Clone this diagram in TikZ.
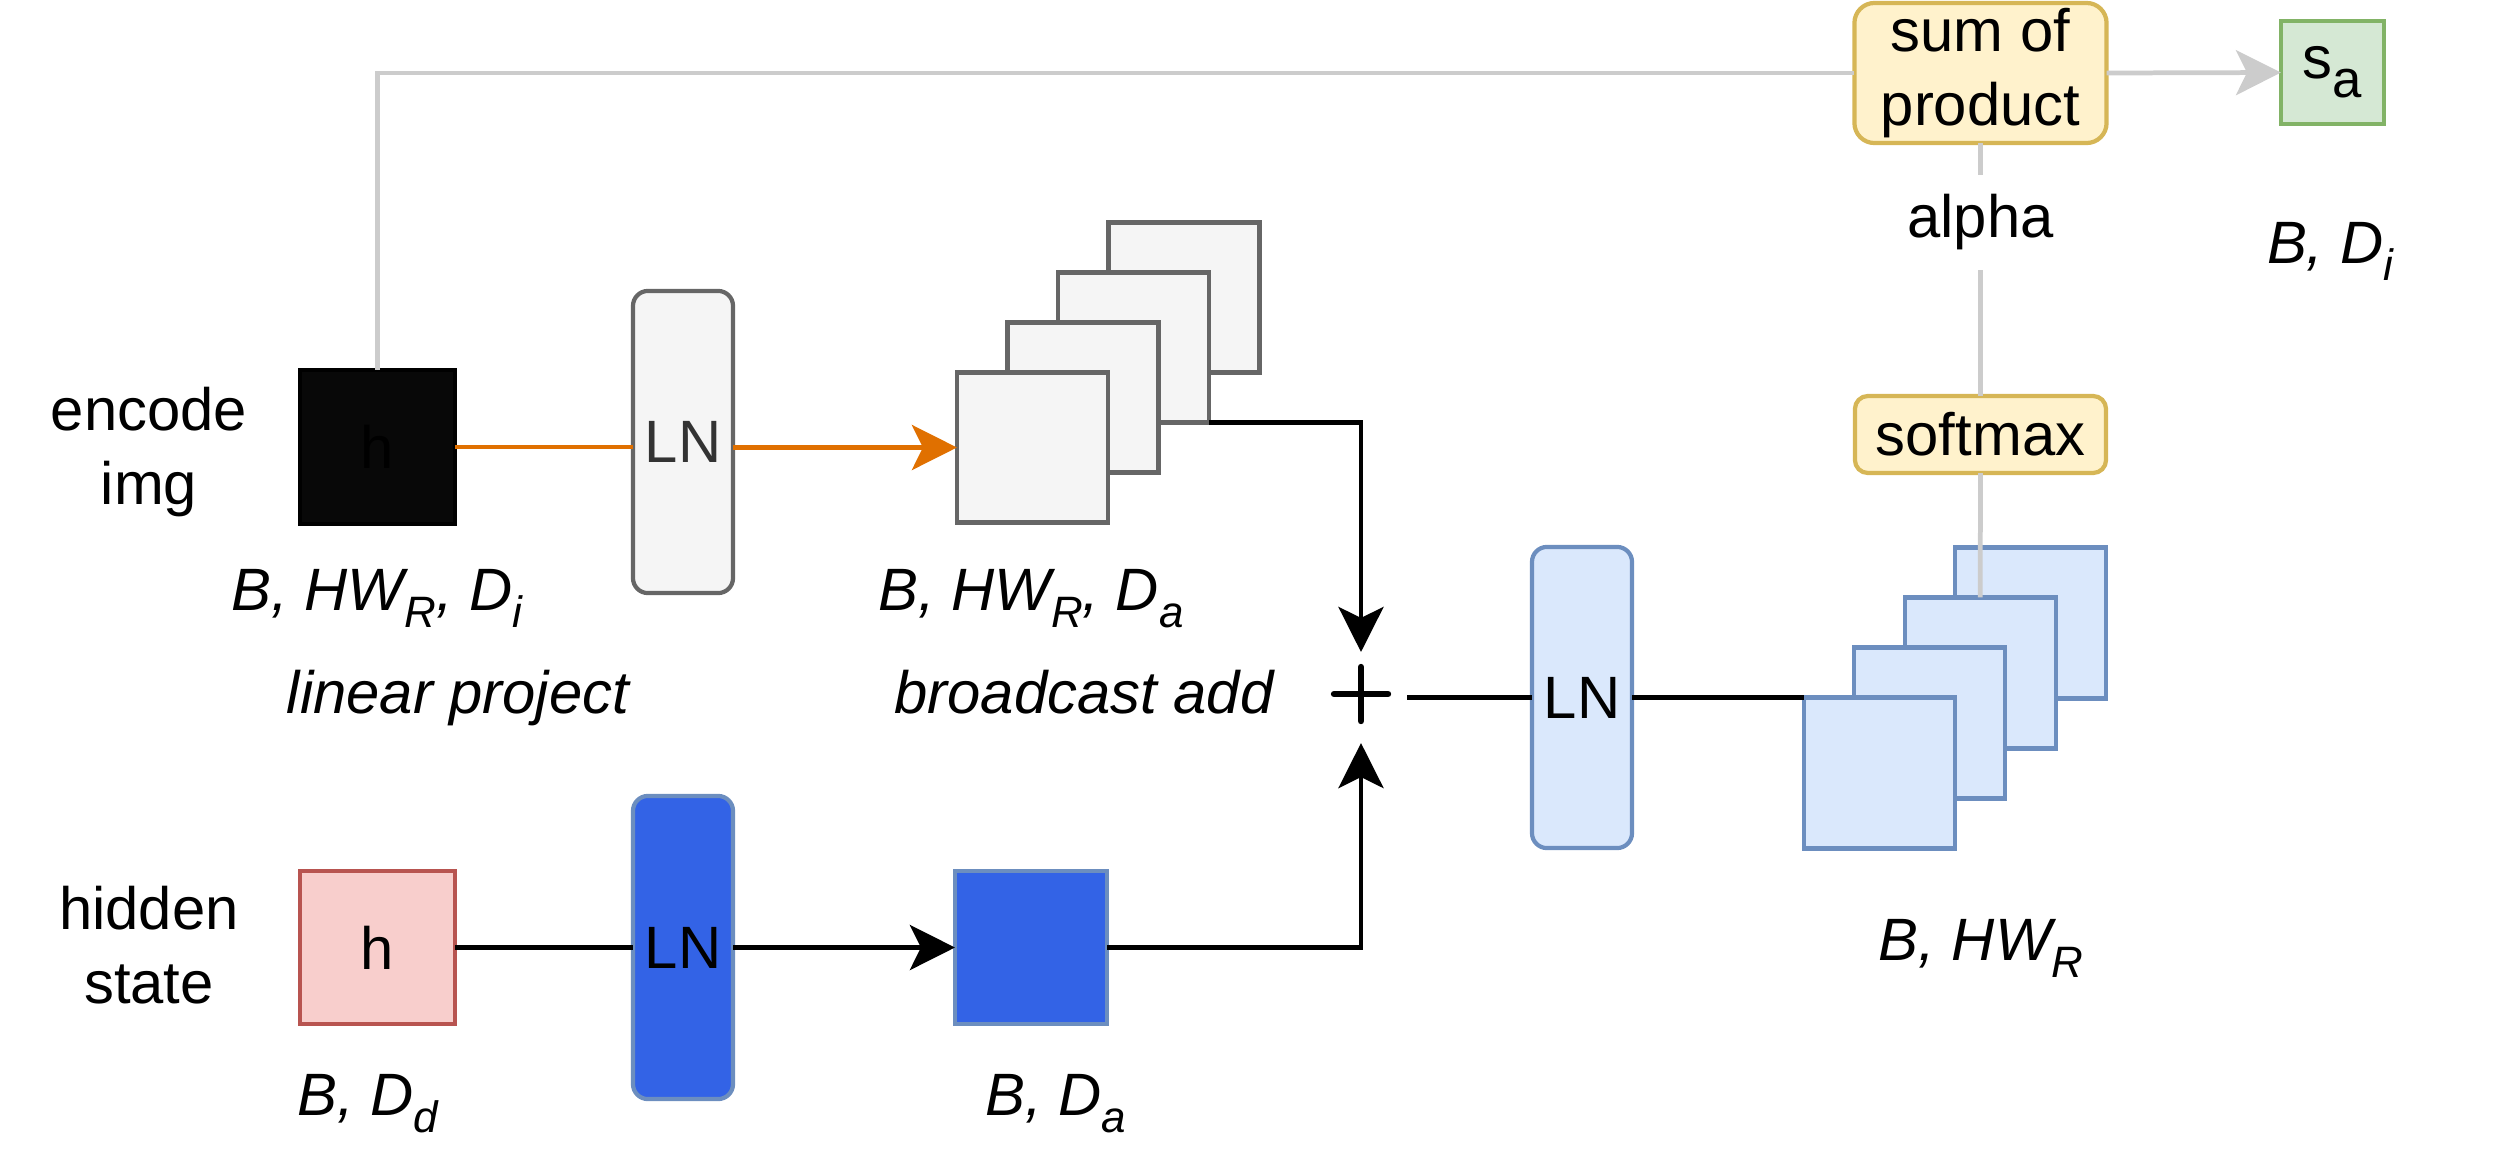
\documentclass[tikz,border=0pt]{standalone}
\usepackage{fontspec}
\setmainfont{Liberation Sans}
\usetikzlibrary{arrows.meta}
\definecolor{gline}{HTML}{CCCCCC}
\definecolor{orng}{HTML}{E07000}
\definecolor{grayfill}{HTML}{F5F5F5}
\definecolor{graystroke}{HTML}{666666}
\definecolor{gtext}{HTML}{333333}
\definecolor{redfill}{HTML}{F8CECC}
\definecolor{redstroke}{HTML}{B85450}
\definecolor{bluefill}{HTML}{DAE8FC}
\definecolor{bluestroke}{HTML}{6C8EBF}
\definecolor{darkblue}{HTML}{3363E6}
\definecolor{yelfill}{HTML}{FFF2CC}
\definecolor{yelstroke}{HTML}{D6B656}
\definecolor{grnfill}{HTML}{D5E8D4}
\definecolor{grnstroke}{HTML}{82B366}
\newcommand{\sbs}[1]{\raisebox{-5pt}{\fontsize{12.5}{12.5}\selectfont #1}}
\begin{document}
\begin{tikzpicture}[x=0.01cm,y=-0.01cm,font=\fontsize{17}{21}\selectfont,
  shp/.style={inner sep=0pt,outer sep=0pt,line width=1.2pt},
  imgbox/.style={shp,draw=black,fill=black!97,text=black,minimum width=1.55cm,minimum height=1.54cm},
  redbox/.style={shp,draw=redstroke,fill=redfill,minimum width=1.55cm,minimum height=1.53cm},
  lngray/.style={shp,draw=graystroke,fill=grayfill,text=gtext,rounded corners=0.15cm,minimum width=1cm,minimum height=3.02cm},
  lnblue/.style={shp,draw=bluestroke,fill=bluefill,rounded corners=0.15cm,minimum width=1cm,minimum height=3.01cm},
  lndark/.style={shp,draw=bluestroke,fill=darkblue,rounded corners=0.15cm,minimum width=1cm,minimum height=3.03cm},
  gsq/.style={shp,draw=graystroke,fill=grayfill,minimum width=1.51cm,minimum height=1.50cm},
  bsq/.style={shp,draw=bluestroke,fill=bluefill,minimum width=1.51cm,minimum height=1.51cm},
  dsqs/.style={shp,draw=bluestroke,fill=darkblue,minimum width=1.52cm,minimum height=1.53cm},
  ybox/.style={shp,draw=yelstroke,fill=yelfill},
  gbox/.style={shp,draw=grnstroke,fill=grnfill,minimum width=1.03cm,minimum height=1.03cm},
  plusn/.style={shp,minimum width=0.92cm,minimum height=0.91cm},
  conn/.style={line width=1.35pt,black},
  oconn/.style={line width=1.35pt,orng},
  gconn/.style={line width=1.35pt,gline},
  arr/.style={-{Stealth[length=0.45cm,width=0.45cm,inset=0.11cm]}},
  lbl/.style={anchor=base,inner sep=0pt,font=\fontsize{17}{21}\selectfont\itshape}]
\useasboundingbox (0,0) rectangle (2505,1175);

% left texts
\node[align=center] (enc) at (149,452) {encode\\img};
\node[align=center] (hst) at (149,945) {hidden\\state};

% image branch
\node[imgbox] (imgh) at (377.5,447) {h};
\node[lngray] (lng) at (683,442) {LN};
\node[gsq] (gs4) at (1184,297.5) {};
\node[gsq] (gs3) at (1133.5,347.5) {};
\node[gsq] (gs2) at (1083,397.5) {};
\node[gsq] (gs1) at (1032.5,447.5) {};

% hidden branch
\node[redbox] (hid) at (377.5,947.5) {h};
\node[lndark] (lnd) at (683,947.5) {LN};
\node[dsqs] (dsq) at (1031,947.5) {};

% plus
\node[plusn] (plus) at (1361,697.5) {};
\draw[line width=1.8pt,line cap=round] ([xshift=-0.27cm,yshift=0.035cm]plus.center) -- ([xshift=0.27cm,yshift=0.035cm]plus.center);
\draw[line width=1.8pt,line cap=round] ([yshift=-0.235cm]plus.center) -- ([yshift=0.305cm]plus.center);

% right part
\node[lnblue] (lnb) at (1582,697.5) {LN};
\node[bsq] (bs4) at (2030.5,623) {};
\node[bsq] (bs3) at (1980.2,673) {};
\node[bsq] (bs2) at (1929.8,723) {};
\node[bsq] (bs1) at (1879.5,773) {};
\node[ybox,rounded corners=0.13cm,minimum width=2.51cm,minimum height=0.77cm] (smax) at (1980.5,434.5) {softmax};
\node[ybox,rounded corners=0.2cm,minimum width=2.52cm,minimum height=1.40cm,align=center] (sum) at (1980.5,73) {sum of\\product};
\node[gbox] (sa) at (2332.5,72.5) {{\fontsize{17}{17}\selectfont s\raisebox{-5.5pt}{\fontsize{15}{15}\selectfont a}}};

% connectors
\draw[oconn] (imgh.east) -- (imgh.east -| lng.west);
\draw[oconn,arr] (lng.east |- gs1.west) -- (gs1.west);
\draw[conn,arr] (gs3.south east) -| (plus.north);
\draw[conn] (hid.east) -- (lnd.west);
\draw[conn,arr] (lnd.east) -- (dsq.west);
\draw[conn,arr] (dsq.east) -| (plus.south);
\draw[conn] (plus.east) -- (lnb.west);
\draw[conn] (lnb.east) -- (bs1.north west);
\draw[gconn] (bs3.north) -- (smax.south);
\draw[gconn] (smax.north) -- node[pos=0.686,fill=white,text=black,inner xsep=2pt,inner ysep=0.2cm] (alpha) {alpha} (sum.south);
\draw[gconn] (imgh.north) |- (sum.west);
\draw[gconn,arr] (sum.east) -- (sa.west);

% labels
\node[lbl] (t1) at (377,610) {B, HW\sbs{R}, D\sbs{i}};
\node[lbl] (t2) at (458,713) {linear project};
\node[lbl] (t3) at (1031,610) {B, HW\sbs{R}, D\sbs{a}};
\node[lbl] (t4) at (1084,713) {broadcast add};
\node[lbl] (t5) at (1981,960) {B, HW\sbs{R}};
\node[lbl] (t6) at (2330,263) {B, D\sbs{i}};
\node[lbl] (t7) at (368,1115) {B, D\sbs{d}};
\node[lbl] (t8) at (1056,1115) {B, D\sbs{a}};
\end{tikzpicture}
\end{document}
